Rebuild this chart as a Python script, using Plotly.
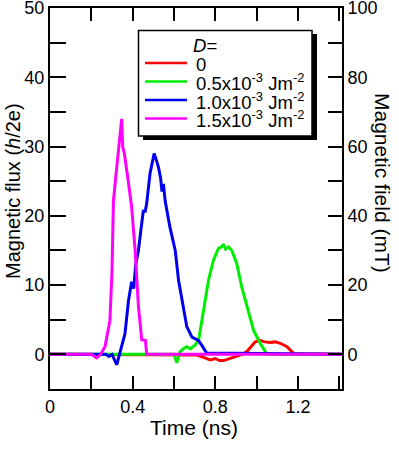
import plotly.graph_objects as go

# ---- data (time in ns, magnetic flux in h/2e) ----
t_d0 = [0, 0.68, 0.71, 0.74, 0.775, 0.80, 0.82, 0.84, 0.87, 0.904, 0.93, 0.953,
        0.975, 0.993, 1.017, 1.04, 1.066, 1.09, 1.114, 1.147, 1.18, 1.41]
v_d0 = [0, 0, -0.1, -0.4, -0.8, -0.6, -0.9, -0.9, -0.6, -0.3, 0, 0.4,
        1.2, 1.8, 2.0, 1.8, 1.7, 1.8, 1.6, 1.1, 0.1, 0]

t_d05 = [0, 0.6, 0.614, 0.63, 0.645, 0.662, 0.68, 0.70, 0.719, 0.743, 0.767, 0.791,
         0.815, 0.83, 0.84, 0.85, 0.864, 0.88, 0.904, 0.928, 0.953, 0.985, 1.017, 1.05, 1.41]
v_d05 = [0, 0, -1.2, 0.4, 0.8, 1.1, 0.8, 1.3, 2, 6.4, 10.7, 13.6,
         15.3, 15.5, 15.9, 15.2, 15.5, 15, 13.1, 9.7, 6.9, 3.5, 1.6, 0, 0]

t_d10 = [0, 0.27, 0.285, 0.3, 0.323, 0.34, 0.363, 0.37, 0.38, 0.395, 0.405, 0.415,
         0.428, 0.44, 0.452, 0.46, 0.468, 0.484, 0.504, 0.515, 0.525, 0.535, 0.542,
         0.549, 0.557, 0.58, 0.606, 0.622, 0.646, 0.662, 0.687, 0.718, 0.735, 0.758, 1.41]
v_d10 = [0, 0, -0.3, 0, -1.5, 0.6, 3, 5, 7.8, 10.5, 9.5, 13,
         15, 18, 20.8, 20.5, 21.8, 26.1, 29, 28, 27, 25.5, 23.5,
         24.6, 22.2, 18.4, 15, 10.7, 6.9, 4, 2.5, 2, 1.3, 0.2, 0]

t_d15 = [0, 0.2, 0.226, 0.245, 0.266, 0.29, 0.3, 0.307, 0.323, 0.339, 0.347,
         0.352, 0.36, 0.38, 0.395, 0.412, 0.428, 0.444, 0.462, 0.468, 1.41]
v_d15 = [0, 0, -0.5, 0, 1.1, 4.9, 12, 22.2, 27, 32.3, 34,
         29.9, 29, 24.7, 21.3, 15, 6.9, 2.1, 2.0, 0, 0]

legend_title = "<i>D</i>="
names = ["0",
         "0.5x10<sup>-3</sup> Jm<sup>-2</sup>",
         "1.0x10<sup>-3</sup> Jm<sup>-2</sup>",
         "1.5x10<sup>-3</sup> Jm<sup>-2</sup>"]
colors = ["#ff0000", "#00ee00", "#0000ee", "#ff00ff"]

x_ticks = [0, 0.4, 0.8, 1.2]
x_ticklabels = ["0", "0.4", "0.8", "1.2"]
y_ticks = [0, 10, 20, 30, 40, 50]
y2_ticks = [0, 20, 40, 60, 80, 100]

FONT = "Liberation Sans, Arial, sans-serif"

fig = go.Figure()
series = [(t_d0, v_d0), (t_d05, v_d05), (t_d10, v_d10), (t_d15, v_d15)]
for (tt, vv), nm, c in zip(series, names, colors):
    fig.add_trace(go.Scatter(x=tt, y=vv, mode="lines", name=nm,
                             line=dict(color=c, width=3), showlegend=False))
# empty trace so the right-hand (magnetic field) axis is drawn
fig.add_trace(go.Scatter(x=[], y=[], yaxis="y2", showlegend=False,
                         hoverinfo="skip"))

# plot-area geometry (px) for paper conversions
L, R, T, B = 50, 57, 8, 68
W, H = 399, 457
pw, ph = W - L - R, H - T - B


def px_x(x):
    return (x - L) / pw


def px_y(y):
    return (H - B - y) / ph


# ---- hand-built legend box with drop shadow ----
shapes = [
    dict(type="rect", xref="paper", yref="paper",
         x0=px_x(143), x1=px_x(317), y0=px_y(140), y1=px_y(34),
         fillcolor="black", line=dict(width=0), layer="above"),
    dict(type="rect", xref="paper", yref="paper",
         x0=px_x(138.5), x1=px_x(312), y0=px_y(136), y1=px_y(30.5),
         fillcolor="white", line=dict(color="black", width=1.5), layer="above"),
]
annotations = [
    dict(text=legend_title, xref="paper", yref="paper",
         x=px_x(191), y=px_y(45), xanchor="left", yanchor="middle",
         showarrow=False, font=dict(family=FONT, size=18.5, color="black")),
]
row_y = [63, 81.5, 100, 118.5]
for nm, c, ry in zip(names, colors, row_y):
    shapes.append(dict(type="line", xref="paper", yref="paper",
                       x0=px_x(145), x1=px_x(187), y0=px_y(ry), y1=px_y(ry),
                       line=dict(color=c, width=2.5), layer="above"))
    annotations.append(dict(text=nm, xref="paper", yref="paper",
                            x=px_x(194), y=px_y(ry + 1), xanchor="left",
                            yanchor="middle", showarrow=False,
                            font=dict(family=FONT, size=18.5, color="black")))

annotations += [
    dict(text="Magnetic flux (<i>h</i>/2e)", xref="paper", yref="paper",
         x=px_x(13), y=px_y(191), textangle=-90, showarrow=False,
         xanchor="center", yanchor="middle",
         font=dict(family=FONT, size=20, color="black")),
    dict(text="Magnetic field (mT)", xref="paper", yref="paper",
         x=px_x(383), y=px_y(183), textangle=90, showarrow=False,
         xanchor="center", yanchor="middle",
         font=dict(family=FONT, size=21, color="black")),
    dict(text="Time (ns)", xref="paper", yref="paper",
         x=px_x(194), y=px_y(427), showarrow=False,
         xanchor="center", yanchor="middle",
         font=dict(family=FONT, size=21, color="black")),
]

axis_common = dict(showline=True, linecolor="black", linewidth=2,
                   showgrid=False, zeroline=False, automargin=False,
                   tickcolor="black", tickwidth=1.5, ticks="inside",
                   ticklabeloverflow="allow",
                   tickfont=dict(family=FONT, size=18, color="black"))

fig.update_layout(
    width=W, height=H,
    margin=dict(l=L, r=R, t=T, b=B, autoexpand=False),
    plot_bgcolor="white", paper_bgcolor="white",
    font=dict(family=FONT, size=18, color="black"),
    showlegend=False,
    xaxis=dict(range=[0, 1.413], tickvals=x_ticks, ticktext=x_ticklabels,
               ticklen=13, mirror="ticks",
               minor=dict(dtick=0.2, tick0=0, ticks="inside", ticklen=13,
                          tickwidth=1.5, tickcolor="black"),
               **axis_common),
    yaxis=dict(range=[-5, 50], tickvals=y_ticks, ticklen=16,
               minor=dict(dtick=5, tick0=0, ticks="inside", ticklen=16,
                          tickwidth=1.5, tickcolor="black"),
               **axis_common),
    yaxis2=dict(range=[-10, 100], tickvals=y2_ticks, overlaying="y",
                side="right", ticklen=14,
                minor=dict(dtick=10, tick0=0, ticks="inside", ticklen=14,
                           tickwidth=1.5, tickcolor="black"),
                **axis_common),
    shapes=shapes,
    annotations=annotations,
)

fig.write_html("out.html",
               config={"displayModeBar": False},
               post_script="document.body.style.margin='0';"
                           "document.body.style.padding='0';")
